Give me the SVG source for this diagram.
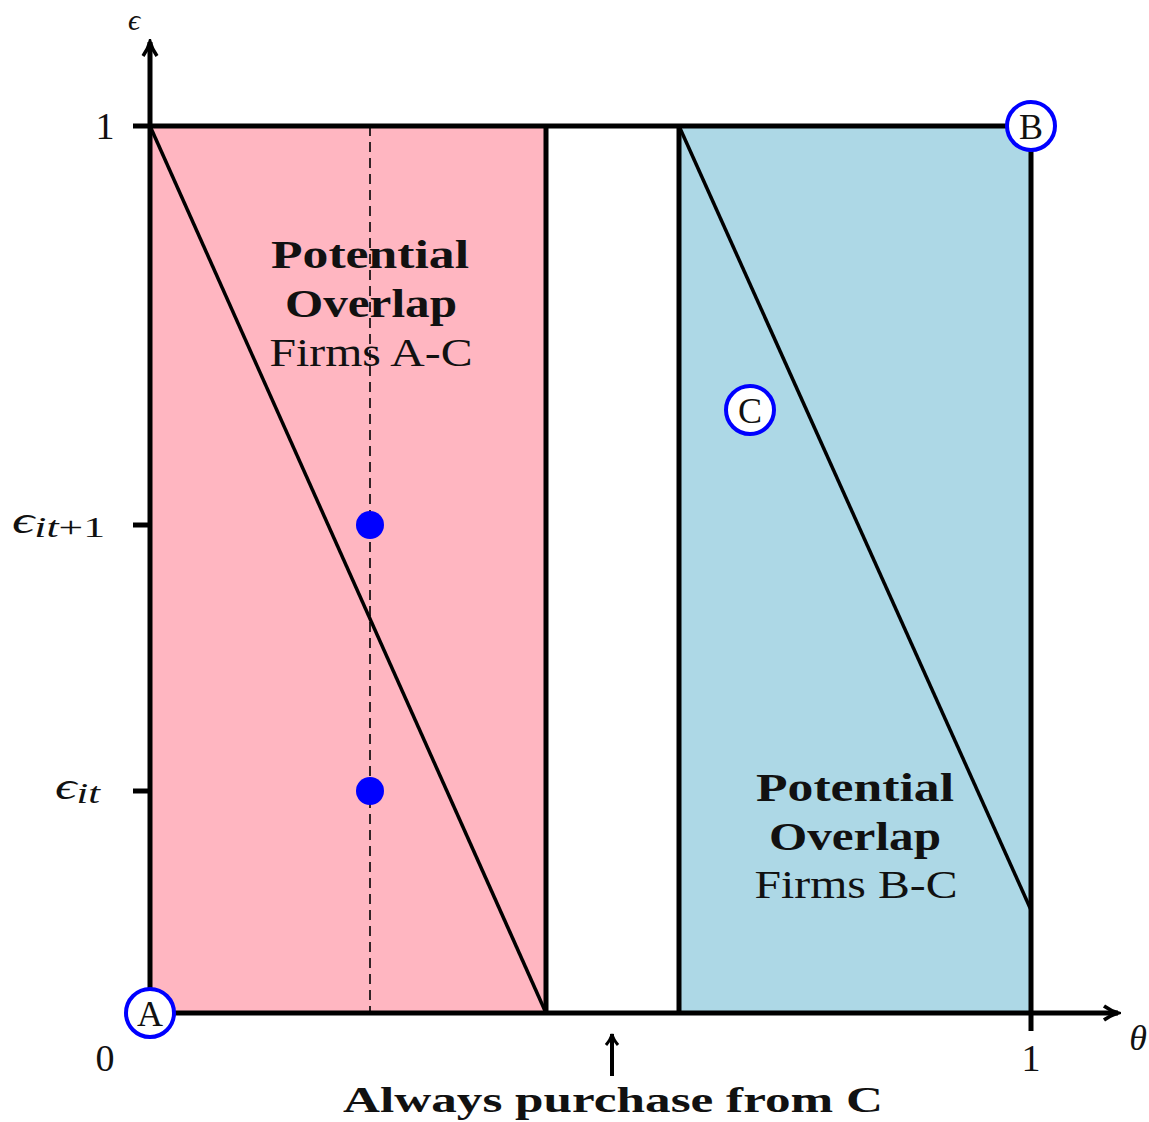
<svg xmlns="http://www.w3.org/2000/svg" width="1149" height="1122" viewBox="0 0 1149 1122">
<style>
.ax{stroke:#000;stroke-width:5;fill:none}
.ln{stroke:#000;stroke-width:3.5;fill:none}
.t{font-family:"Liberation Serif","DejaVu Serif",serif;fill:#111}
.b{font-weight:bold}
.m{font-style:italic}
.lbl{fill:#fff;stroke:#0000ff;stroke-width:4}
</style>
<defs>
<marker id="ah" viewBox="0 0 16 16" refX="13" refY="8" markerWidth="16" markerHeight="16" markerUnits="userSpaceOnUse" orient="auto">
<path d="M2,2 Q8,7 13,8 Q8,9 2,14" fill="none" stroke="#000" stroke-width="3"/>
</marker>
<marker id="ah2" viewBox="0 0 20 20" refX="17" refY="10" markerWidth="20" markerHeight="20" markerUnits="userSpaceOnUse" orient="auto">
<path d="M3,3 Q10,8 17,10 Q10,12 3,17" fill="none" stroke="#000" stroke-width="3.6"/>
</marker>
</defs>
<rect width="1149" height="1122" fill="#fff"/>
<g id="region-ac">
<rect x="150" y="126" width="396" height="887" fill="#ffb6c1"/>
</g>
<g id="region-bc">
<rect x="679" y="126" width="352" height="887" fill="#add8e6"/>
</g>
<g id="connectors">
<line class="ln" x1="150" y1="126" x2="546" y2="1013"/>
<line class="ln" x1="679" y1="126" x2="1031" y2="910"/>
<line x1="370" y1="126" x2="370" y2="1013" stroke="#000" stroke-width="1.6" stroke-dasharray="10,6"/>
<line class="ax" x1="546" y1="126" x2="546" y2="1013"/>
<line class="ax" x1="679" y1="126" x2="679" y2="1013"/>
<line class="ax" x1="1031" y1="126" x2="1031" y2="1031"/>
<line class="ax" x1="133" y1="126" x2="1031" y2="126"/>
<line class="ax" x1="133" y1="525" x2="150" y2="525"/>
<line class="ax" x1="133" y1="791" x2="150" y2="791"/>
<line class="ax" x1="150" y1="1013" x2="150" y2="42" marker-end="url(#ah2)"/>
<line class="ax" x1="150" y1="1013" x2="1118" y2="1013" marker-end="url(#ah2)"/>
<line x1="612" y1="1076" x2="612" y2="1034" stroke="#000" stroke-width="4" marker-end="url(#ah)"/>
</g>
<g id="dots">
<circle cx="370" cy="525" r="14" fill="#0000ff"/>
<circle cx="370" cy="791" r="14" fill="#0000ff"/>
</g>
<g id="node-a">
<circle class="lbl" cx="150" cy="1013" r="24"/>
<text class="t" x="150" y="1026" font-size="36" text-anchor="middle">A</text>
</g>
<g id="node-b">
<circle class="lbl" cx="1031" cy="126" r="24"/>
<text class="t" x="1031" y="139" font-size="36" text-anchor="middle">B</text>
</g>
<g id="node-c">
<circle class="lbl" cx="750" cy="410" r="24"/>
<text class="t" x="750" y="423" font-size="36" text-anchor="middle">C</text>
</g>
<g id="labels">
<text class="t m" x="134" y="30" font-size="30" text-anchor="middle">ϵ</text>
<text class="t" x="105" y="139" font-size="38" text-anchor="middle">1</text>
<text class="t" x="105" y="1071" font-size="38" text-anchor="middle">0</text>
<text class="t" x="1031" y="1071" font-size="38" text-anchor="middle">1</text>
<text class="t m" x="1138" y="1050" font-size="36" text-anchor="middle">θ</text>
<text class="t" x="12" y="533" font-size="38" textLength="93" lengthAdjust="spacingAndGlyphs"><tspan class="m">ϵ</tspan><tspan class="m" font-size="30" dy="4">it</tspan><tspan font-size="30">+1</tspan></text>
<text class="t" x="55" y="799" font-size="38" textLength="45" lengthAdjust="spacingAndGlyphs"><tspan class="m">ϵ</tspan><tspan class="m" font-size="30" dy="4">it</tspan></text>
<text class="t b" x="370" y="268" font-size="40" text-anchor="middle" textLength="198" lengthAdjust="spacingAndGlyphs">Potential</text>
<text class="t b" x="371" y="317" font-size="40" text-anchor="middle" textLength="172" lengthAdjust="spacingAndGlyphs">Overlap</text>
<text class="t" x="371" y="366" font-size="40" text-anchor="middle" textLength="203" lengthAdjust="spacingAndGlyphs">Firms A-C</text>
<text class="t b" x="855" y="801" font-size="40" text-anchor="middle" textLength="198" lengthAdjust="spacingAndGlyphs">Potential</text>
<text class="t b" x="855" y="850" font-size="40" text-anchor="middle" textLength="172" lengthAdjust="spacingAndGlyphs">Overlap</text>
<text class="t" x="856" y="898" font-size="40" text-anchor="middle" textLength="203" lengthAdjust="spacingAndGlyphs">Firms B-C</text>
<text class="t b" x="613" y="1112" font-size="36" text-anchor="middle" textLength="540" lengthAdjust="spacingAndGlyphs">Always purchase from C</text>
</g>
</svg>
